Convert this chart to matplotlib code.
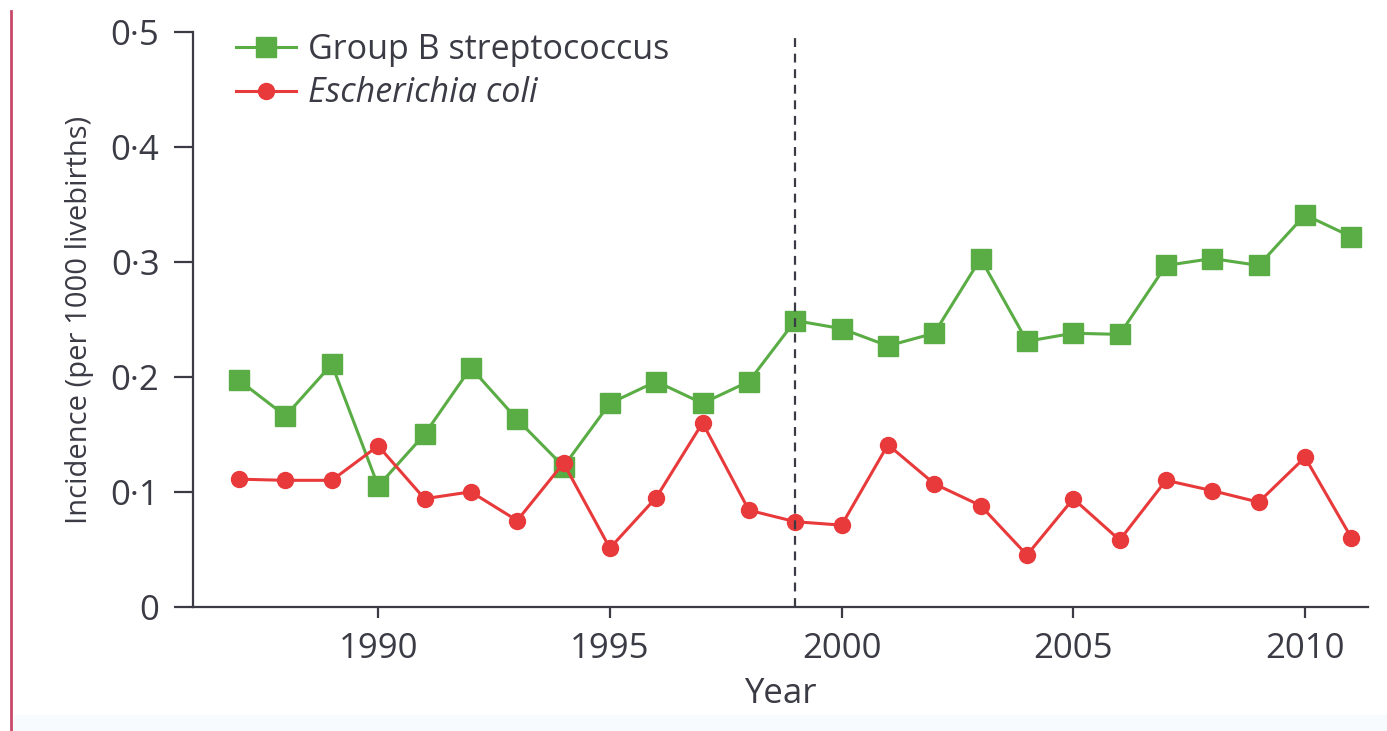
import matplotlib
matplotlib.use("Agg")
import matplotlib.pyplot as plt
from matplotlib.lines import Line2D
from matplotlib.patches import Rectangle
from matplotlib.ticker import FuncFormatter

plt.rcParams['font.family'] = ['Open Sans', 'DejaVu Sans']

# Data
years = list(range(1987, 2012))
gbs = [0.197, 0.166, 0.211, 0.105, 0.150, 0.208, 0.163, 0.122, 0.177, 0.196,
       0.177, 0.196, 0.249, 0.242, 0.227, 0.238, 0.303, 0.231, 0.238, 0.237,
       0.297, 0.303, 0.297, 0.341, 0.322]
ecoli = [0.111, 0.110, 0.110, 0.140, 0.094, 0.100, 0.075, 0.125, 0.051, 0.095,
         0.160, 0.084, 0.074, 0.071, 0.141, 0.107, 0.088, 0.045, 0.094, 0.058,
         0.110, 0.101, 0.091, 0.130, 0.060]
cutoff_year = 1999
x_ticks = [1990, 1995, 2000, 2005, 2010]
y_ticks = [0, 0.1, 0.2, 0.3, 0.4, 0.5]

green = "#5aac45"
red = "#e8393b"
dark = "#3a3b44"

fig = plt.figure(figsize=(13.87, 7.31), dpi=100)
ax = fig.add_axes([0.139, 0.170, 0.847, 0.786])

ax.plot(years, gbs, color=green, lw=2.2, marker="s", ms=14, mec=green,
        label="Group B streptococcus")
ax.plot(years, ecoli, color=red, lw=2.2, marker="o", ms=11.5, mec=red,
        label="Escherichia coli")
ax.axvline(cutoff_year, color=dark, lw=1.6, ls=(0, (4, 3)))

ax.set_xlim(1986, 2011.35)
ax.set_ylim(0, 0.5)
ax.set_xticks(x_ticks)
ax.set_yticks(y_ticks)


def dot_fmt(v, pos):
    if abs(v) < 1e-9:
        return "0"
    return f"{v:.1f}".replace(".", "\u00b7")


ax.yaxis.set_major_formatter(FuncFormatter(dot_fmt))

for side in ["top", "right"]:
    ax.spines[side].set_visible(False)
for side in ["left", "bottom"]:
    ax.spines[side].set_color(dark)
    ax.spines[side].set_linewidth(1.6)
ax.tick_params(axis="both", colors=dark, labelsize=25, width=1.6, direction="out")
ax.tick_params(axis="y", length=14, pad=10)
ax.tick_params(axis="x", length=8, pad=10)

ax.set_xlabel("Year", fontsize=25, color=dark, labelpad=8)
ax.set_ylabel("Incidence (per 1000 livebirths)", fontsize=21, color=dark, labelpad=12)

leg = ax.legend(loc="upper left", bbox_to_anchor=(0.011, 1.052), frameon=False,
                fontsize=24.5, handlelength=1.75, handletextpad=0.35, labelspacing=0.28)
for t in leg.get_texts():
    t.set_color(dark)
leg.get_texts()[1].set_style("italic")

# left red border and faint bottom strip
fig.add_artist(Line2D([0.008, 0.008], [0.0, 0.985], transform=fig.transFigure,
                      color="#c8496a", lw=2))
fig.add_artist(Rectangle((0.01, 0.0), 0.99, 0.022, transform=fig.transFigure,
                         color="#f8fbfd", zorder=-1))

fig.savefig("out.png", dpi=100)
